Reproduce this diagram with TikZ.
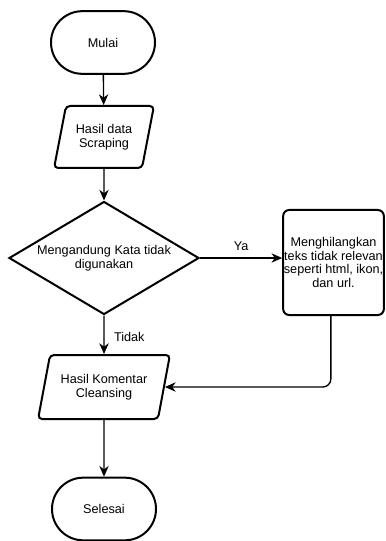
\documentclass[tikz,border=0pt]{standalone}
\usepackage{fontspec}
\setmainfont{Liberation Sans}
\usetikzlibrary{shapes.geometric,arrows.meta}
\begin{document}
\begin{tikzpicture}[x=0.75pt,y=-0.75pt,
  every node/.style={font=\fontsize{9.5pt}{10.4pt}\selectfont, align=center, inner sep=0pt},
  shp/.style={draw=black, line width=1.5pt},
  term/.style={shp, rectangle, rounded corners=23.5pt, minimum width=78pt, minimum height=47pt},
  iobox/.style={shp, trapezium, trapezium stretches=true, rounded corners=3pt},
  dec/.style={shp, diamond, shape aspect=1.68, minimum width=142.5pt, minimum height=84.75pt},
  proc/.style={shp, rectangle, rounded corners=4.5pt, minimum width=75.5pt, minimum height=78.75pt},
  conn/.style={line width=1pt, -{Stealth[length=8pt,width=7pt,inset=2.5pt]}},
  lbl/.style={font=\fontsize{9.5pt}{10.4pt}\selectfont}
]
\useasboundingbox (0,0) rectangle (385,541);
\node[term] (start) at (103,42.5) {Mulai};
\node[iobox, trapezium left angle=71, trapezium right angle=109, minimum width=75pt, minimum height=46.5pt] (p1) at (104,137) {Hasil data\\Scraping};
\node[dec] (d) at (104,258) {Mengandung Kata tidak\\digunakan};
\node[proc] (r) at (333.5,262.5) {Menghilangkan\\teks tidak relevan\\seperti html, ikon,\\dan url.};
\node[iobox, trapezium left angle=69.5, trapezium right angle=110.5, minimum width=99pt, minimum height=48pt] (p2) at (104,387) {Hasil Komentar\\Cleansing};
\node[term] (end) at (104,509) {Selesai};

\draw[conn] (start) -- (p1);
\draw[conn] (p1) -- (d);
\draw[conn] (d.east) -- (d.east -| r.west) node[lbl, midway, above=5pt] (ya) {Ya};
\draw[conn] (d) -- (p2) node[lbl, pos=0.55, right=7pt] (tidak) {Tidak};
\draw[conn, rounded corners=6pt] ([xshift=-2pt]r.south) |- (p2.east);
\draw[conn] (p2) -- (end);
\end{tikzpicture}
\end{document}
